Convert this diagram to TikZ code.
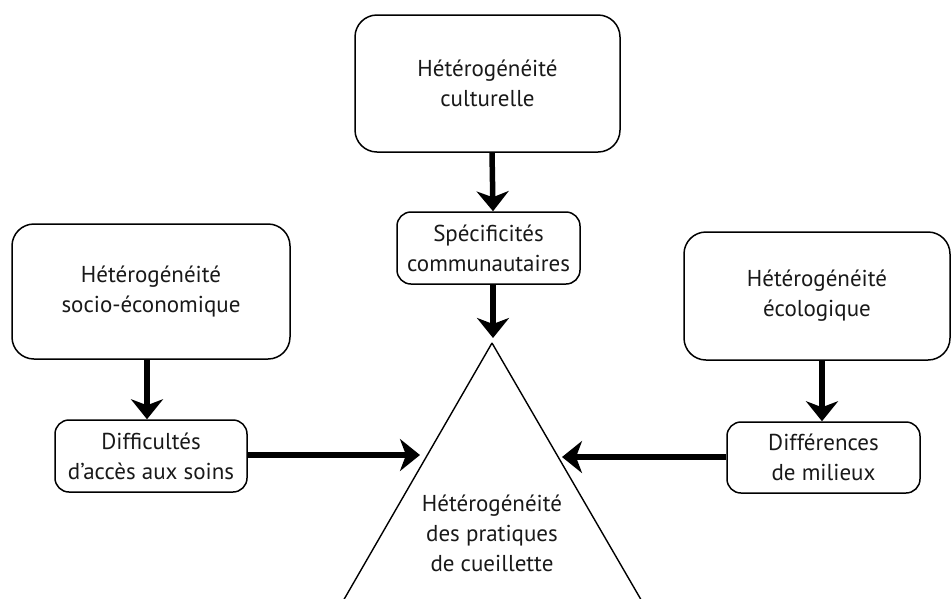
\documentclass[tikz,border=0pt]{standalone}
\usepackage{fontspec}
\setmainfont{PT Sans}
\usetikzlibrary{arrows.meta}
\begin{document}
\begin{tikzpicture}[x=1pt,y=-1pt,
  txt/.style={align=center, font=\fontsize{23}{30}\selectfont, text=black!90},
  bigbox/.style={txt, draw=black, line width=1.5pt, rounded corners=22pt, inner sep=0pt},
  smallbox/.style={txt, draw=black, line width=1.5pt, rounded corners=14pt, inner sep=0pt},
  flow/.style={line width=5.5pt, -{Stealth[length=20pt,width=32pt,inset=6pt]}}]
\useasboundingbox (0,0) rectangle (952,598);
\begin{scope}
\clip (0,0) rectangle (952,598);
\coordinate (apex) at (492,343);
\draw[line width=1.4pt] (apex) -- (320,641) (apex) -- (665,641);
\end{scope}
\node[bigbox, minimum width=265pt, minimum height=137pt] (cult) at (487.5,83.5) {Hétérogénéité\\culturelle};
\node[smallbox, minimum width=183pt, minimum height=72pt] (spec) at (488.5,248) {Spécificités\\communautaires};
\node[bigbox, minimum width=278pt, minimum height=135pt] (socio) at (151,291.5) {Hétérogénéité\\socio-économique};
\node[smallbox, minimum width=192pt, minimum height=72pt] (diff) at (151,456) {Difficultés\\d’accès aux soins};
\node[bigbox, minimum width=266pt, minimum height=128pt] (eco) at (817,296) {Hétérogénéité\\écologique};
\node[smallbox, minimum width=193pt, minimum height=71pt] (mil) at (823.5,457.5) {Différences\\de milieux};
\node[txt] (tri) at (492,533) {Hétérogénéité\\des pratiques\\de cueillette};
\coordinate (tipL) at (420,455);
\coordinate (tipR) at (562,457);
\coordinate (tipT) at (493,338);
\draw[flow] ([xshift=4.5pt]cult.south) -- ([xshift=4.5pt]spec.north);
\draw[flow] ([xshift=4.5pt]spec.south) -- (tipT);
\draw[flow] ([xshift=-4pt]socio.south) -- ([xshift=-4pt]diff.north);
\draw[flow] ([xshift=5pt]eco.south) -- ([xshift=-1.5pt]mil.north);
\draw[flow] (diff.east |- tipL) -- (tipL);
\draw[flow] (mil.west |- tipR) -- (tipR);
\end{tikzpicture}
\end{document}
